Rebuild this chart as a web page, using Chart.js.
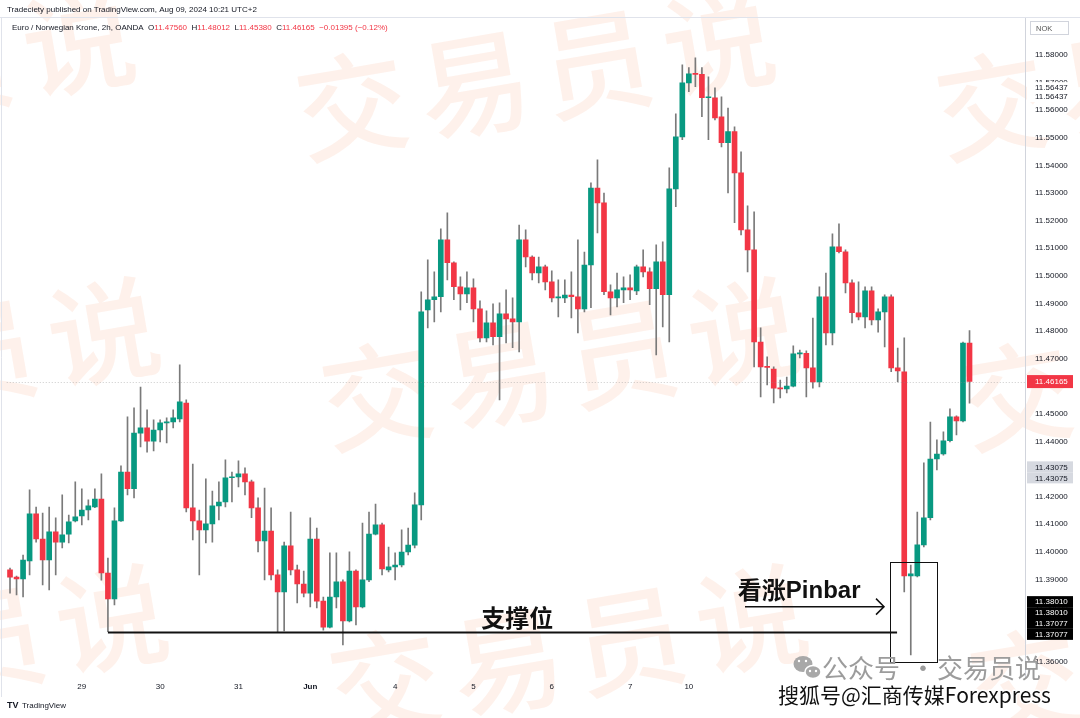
<!DOCTYPE html>
<html>
<head>
<meta charset="utf-8">
<title>EUR/NOK 2h</title>
<script src="https://cdn.jsdelivr.net/npm/chart.js@4.4.1/dist/chart.umd.min.js"></script>
<style>
  html, body { margin: 0; padding: 0; background: #fff; }
  canvas { display: block; }
</style>
</head>
<body>
<canvas id="myChart" width="1080" height="718"></canvas>
<script>
// 2h candles, EUR/NOK (OANDA)
const opens = [
  11.3934, 11.3908, 11.3901, 11.3967, 11.4137, 11.4046, 11.3970, 11.4072, 11.4035, 11.4064,
  11.4112, 11.4130, 11.4151, 11.4162, 11.4191, 11.3923, 11.3829, 11.4112, 11.4289, 11.4228,
  11.4430, 11.4449, 11.4401, 11.4441, 11.4467, 11.4470, 11.4481, 11.4539, 11.4159, 11.4112,
  11.4079, 11.4101, 11.4166, 11.4180, 11.4268, 11.4271, 11.4282, 11.4253, 11.4159, 11.4039,
  11.4075, 11.3916, 11.3854, 11.4021, 11.3934, 11.3883, 11.3850, 11.4046, 11.3821, 11.3727,
  11.3836, 11.3891, 11.3749, 11.3930, 11.3800, 11.3898, 11.4064, 11.4097, 11.3934, 11.3945,
  11.3952, 11.3999, 11.4024, 11.4170, 11.4876, 11.4913, 11.4924, 11.5130, 11.5047, 11.4960,
  11.4934, 11.4956, 11.4880, 11.4775, 11.4829, 11.4779, 11.4862, 11.4844, 11.4833, 11.5130,
  11.5068, 11.5010, 11.5032, 11.4978, 11.4920, 11.4920, 11.4930, 11.4924, 11.4880, 11.5039,
  11.5318, 11.5264, 11.4942, 11.4920, 11.4949, 11.4956, 11.4945, 11.5032, 11.5014, 11.4953,
  11.5050, 11.4931, 11.5315, 11.5503, 11.5699, 11.5732, 11.5730, 11.5645, 11.5645, 11.5576,
  11.5482, 11.5522, 11.5373, 11.5166, 11.5094, 11.4760, 11.4670, 11.4662, 11.4593, 11.4590,
  11.4600, 11.4717, 11.4719, 11.4666, 11.4615, 11.4924, 11.4793, 11.5105, 11.5087, 11.4974,
  11.4866, 11.4851, 11.4945, 11.4840, 11.4869, 11.4924, 11.4666, 11.4652, 11.3912, 11.3912,
  11.4025, 11.4123, 11.4336, 11.4354, 11.4402, 11.4489, 11.4474, 11.4756
];
const highs = [
  11.3941, 11.3912, 11.3988, 11.4224, 11.4162, 11.4140, 11.4162, 11.4123, 11.4206, 11.4133,
  11.4253, 11.4228, 11.4188, 11.4228, 11.4282, 11.3977, 11.4159, 11.4311, 11.4489, 11.4521,
  11.4597, 11.4514, 11.4478, 11.4478, 11.4485, 11.4514, 11.4677, 11.4550, 11.4318, 11.4151,
  11.4264, 11.4220, 11.4253, 11.4333, 11.4289, 11.4329, 11.4304, 11.4260, 11.4195, 11.4231,
  11.4159, 11.3934, 11.4035, 11.4144, 11.3952, 11.3930, 11.4123, 11.4086, 11.3836, 11.3996,
  11.3996, 11.3898, 11.4000, 11.3934, 11.4104, 11.4144, 11.4173, 11.4104, 11.4017, 11.3996,
  11.4079, 11.4086, 11.4213, 11.4942, 11.5058, 11.5014, 11.5170, 11.5228, 11.5050, 11.4996,
  11.5014, 11.4989, 11.4909, 11.4873, 11.4898, 11.4902, 11.4949, 11.4920, 11.5184, 11.5166,
  11.5072, 11.5068, 11.5039, 11.5018, 11.4985, 11.4985, 11.5014, 11.5130, 11.5086, 11.5337,
  11.5420, 11.5300, 11.4967, 11.5010, 11.4996, 11.5003, 11.5039, 11.5094, 11.5029, 11.5112,
  11.5123, 11.5391, 11.5587, 11.5764, 11.5754, 11.5790, 11.5754, 11.5721, 11.5681, 11.5648,
  11.5608, 11.5540, 11.5449, 11.5253, 11.5232, 11.4811, 11.4706, 11.4670, 11.4622, 11.4633,
  11.4746, 11.4731, 11.4728, 11.4847, 11.4960, 11.5010, 11.5152, 11.5188, 11.5094, 11.4985,
  11.4978, 11.4960, 11.4960, 11.4880, 11.4931, 11.4931, 11.4738, 11.4775, 11.3952, 11.4144,
  11.4322, 11.4470, 11.4405, 11.4434, 11.4518, 11.4492, 11.4760, 11.4801
];
const lows = [
  11.3850, 11.3843, 11.3836, 11.3916, 11.4035, 11.3880, 11.3862, 11.3916, 11.4014, 11.4032,
  11.4108, 11.4097, 11.4115, 11.4160, 11.3897, 11.3710, 11.3807, 11.4110, 11.4206, 11.4195,
  11.4380, 11.4361, 11.4365, 11.4398, 11.4394, 11.4449, 11.4470, 11.4144, 11.4043, 11.3916,
  11.4032, 11.4035, 11.4115, 11.4162, 11.4180, 11.4235, 11.4206, 11.4123, 11.3999, 11.3898,
  11.3898, 11.3709, 11.3713, 11.3916, 11.3814, 11.3836, 11.3800, 11.3796, 11.3716, 11.3724,
  11.3796, 11.3662, 11.3746, 11.3735, 11.3796, 11.3891, 11.4061, 11.3916, 11.3927, 11.3898,
  11.3945, 11.3988, 11.4014, 11.4115, 11.4811, 11.4833, 11.4869, 11.4985, 11.4913, 11.4876,
  11.4902, 11.4833, 11.4760, 11.4760, 11.4749, 11.4550, 11.4757, 11.4739, 11.4724, 11.5032,
  11.4985, 11.4974, 11.4949, 11.4905, 11.4851, 11.4902, 11.4847, 11.4793, 11.4869, 11.4884,
  11.5155, 11.4931, 11.4858, 11.4887, 11.4902, 11.4913, 11.4931, 11.4996, 11.4895, 11.4713,
  11.4815, 11.4760, 11.5250, 11.5493, 11.5667, 11.5685, 11.5576, 11.5493, 11.5565, 11.5467,
  11.5300, 11.5192, 11.5148, 11.5014, 11.4670, 11.4561, 11.4604, 11.4539, 11.4557, 11.4575,
  11.4597, 11.4702, 11.4561, 11.4593, 11.4597, 11.4749, 11.4749, 11.5083, 11.4938, 11.4829,
  11.4840, 11.4811, 11.4822, 11.4796, 11.4742, 11.4652, 11.4615, 11.3854, 11.3626, 11.3909,
  11.4017, 11.4115, 11.4296, 11.4350, 11.4398, 11.4423, 11.4470, 11.4538
];
const closes = [
  11.3908, 11.3901, 11.3970, 11.4137, 11.4046, 11.3970, 11.4072, 11.4035, 11.4061, 11.4108,
  11.4126, 11.4151, 11.4166, 11.4191, 11.3923, 11.3829, 11.4112, 11.4289, 11.4228, 11.4430,
  11.4449, 11.4401, 11.4441, 11.4467, 11.4471, 11.4485, 11.4543, 11.4159, 11.4112, 11.4079,
  11.4101, 11.4166, 11.4180, 11.4268, 11.4271, 11.4282, 11.4253, 11.4159, 11.4039, 11.4075,
  11.3916, 11.3854, 11.4021, 11.3934, 11.3883, 11.3850, 11.4046, 11.3821, 11.3727, 11.3836,
  11.3891, 11.3749, 11.3930, 11.3800, 11.3898, 11.4064, 11.4097, 11.3938, 11.3945, 11.3952,
  11.3999, 11.4024, 11.4170, 11.4869, 11.4913, 11.4924, 11.5130, 11.5047, 11.4960, 11.4934,
  11.4956, 11.4880, 11.4775, 11.4829, 11.4779, 11.4862, 11.4844, 11.4833, 11.5130, 11.5068,
  11.5010, 11.5032, 11.4978, 11.4920, 11.4922, 11.4930, 11.4924, 11.4880, 11.5039, 11.5318,
  11.5264, 11.4942, 11.4920, 11.4949, 11.4956, 11.4949, 11.5032, 11.5014, 11.4953, 11.5050,
  11.4931, 11.5315, 11.5503, 11.5699, 11.5732, 11.5730, 11.5645, 11.5647, 11.5572, 11.5482,
  11.5522, 11.5373, 11.5166, 11.5094, 11.4760, 11.4670, 11.4668, 11.4593, 11.4590, 11.4600,
  11.4717, 11.4719, 11.4666, 11.4615, 11.4924, 11.4793, 11.5105, 11.5087, 11.4974, 11.4866,
  11.4851, 11.4945, 11.4840, 11.4869, 11.4924, 11.4666, 11.4655, 11.3912, 11.3920, 11.4025,
  11.4123, 11.4336, 11.4354, 11.4402, 11.4489, 11.4474, 11.4756, 11.4617
];

// day labels on the time axis (bar index -> text)
const dayTickIndex = [11, 23, 35, 46, 59, 71, 83, 95, 104];
const dayTickText = ['29', '30', '31', 'Jun', '4', '5', '6', '7', '10'];

// empty bars kept on the right, like TradingView's right margin
const rightMarginBars = 8;

// price scale range and extra axis markers
const priceMin = 11.3546;
const priceMax = 11.5934;
const lastPrice = 11.46165;
const highMark = 11.56437;
const crossMark = 11.43075;
const arrowPrice = 11.38010;
const supportPrice = 11.37077;

// drawings: [bar index from, bar index to]
const supportSpan = [15, 135.9];
const arrowSpan = [112.6, 133.9];
const boxSpan = [134.8, 142.0];
const boxPrices = [11.3963, 11.3600];

const UP = '#089981';
const DOWN = '#F23645';
const WICK = '#7a7a7a';
const UI_FONT = '"Liberation Sans", Arial, sans-serif';
const CJK_FONT = '"Noto Sans CJK SC", sans-serif';

const labels = [];
for (let i = 0; i < opens.length + rightMarginBars; i++) labels.push(String(i));
const bodyColors = opens.map((o, i) => (closes[i] >= o ? UP : DOWN));

function axisTag(ctx, y, text, bg, fg) {
  ctx.fillStyle = bg;
  ctx.fillRect(1027, y - 5.5, 46, 11);
  ctx.fillStyle = fg;
  ctx.font = '8px ' + UI_FONT;
  ctx.textAlign = 'left';
  ctx.textBaseline = 'middle';
  ctx.fillText(text, 1035, y + 0.5);
}

const tvOverlay = {
  id: 'tvOverlay',
  beforeDraw(chart) {
    const ctx = chart.ctx;
    ctx.save();
    ctx.fillStyle = '#fff';
    ctx.fillRect(0, 0, chart.width, chart.height);
    // faint diagonal watermark
    ctx.fillStyle = 'rgba(250,140,90,0.12)';
    ctx.font = '500 112px ' + CJK_FONT;
    ctx.textAlign = 'center';
    ctx.textBaseline = 'middle';
    const word = ['交', '易', '员', '说'];
    [[352, 105], [377, 395], [385, 682]].forEach(([xr, y0]) => {
      [xr - 640, xr, xr + 640].forEach(x0 => {
        ctx.save();
        ctx.translate(x0, y0);
        ctx.rotate(-0.17);
        word.forEach((ch, k) => ctx.fillText(ch, k * 124, 0));
        ctx.restore();
      });
    });
    ctx.restore();
  },
  afterDatasetsDraw(chart) {
    const ctx = chart.ctx;
    const x = chart.scales.x;
    const y = chart.scales.y;
    const area = chart.chartArea;
    ctx.save();

    // last price dotted line
    ctx.strokeStyle = 'rgba(140,140,140,0.45)';
    ctx.setLineDash([1, 2]);
    ctx.lineWidth = 1;
    const ly = Math.round(y.getPixelForValue(lastPrice)) + 0.5;
    ctx.beginPath();
    ctx.moveTo(area.left, ly);
    ctx.lineTo(area.right, ly);
    ctx.stroke();
    ctx.setLineDash([]);

    // support line
    ctx.strokeStyle = '#111';
    ctx.lineWidth = 2;
    const sy = y.getPixelForValue(supportPrice);
    ctx.beginPath();
    ctx.moveTo(x.getPixelForValue(supportSpan[0]), sy);
    ctx.lineTo(x.getPixelForValue(supportSpan[1]), sy);
    ctx.stroke();

    // arrow
    const ay = y.getPixelForValue(arrowPrice);
    const ax1 = x.getPixelForValue(arrowSpan[0]);
    const ax2 = x.getPixelForValue(arrowSpan[1]);
    ctx.lineWidth = 1.5;
    ctx.beginPath();
    ctx.moveTo(ax1, ay);
    ctx.lineTo(ax2, ay);
    ctx.moveTo(ax2 - 8, ay - 8);
    ctx.lineTo(ax2, ay);
    ctx.lineTo(ax2 - 8, ay + 8);
    ctx.stroke();

    // box around the pin bar
    ctx.lineWidth = 1;
    const bx1 = x.getPixelForValue(boxSpan[0]);
    const bx2 = x.getPixelForValue(boxSpan[1]);
    const by1 = y.getPixelForValue(boxPrices[0]);
    const by2 = y.getPixelForValue(boxPrices[1]);
    ctx.strokeRect(Math.round(bx1) + 0.5, Math.round(by1) + 0.5, Math.round(bx2 - bx1), Math.round(by2 - by1));

    // labels
    ctx.fillStyle = '#111';
    ctx.font = 'bold 24px ' + CJK_FONT;
    ctx.textAlign = 'center';
    ctx.textBaseline = 'alphabetic';
    ctx.fillText('支撑位', x.getPixelForValue(77.7), sy - 5);
    ctx.textAlign = 'left';
    ctx.textBaseline = 'middle';
    const px = x.getPixelForValue(111.5);
    const py = y.getPixelForValue(11.3861);
    ctx.font = 'bold 24px ' + CJK_FONT;
    ctx.fillText('看涨', px, py);
    const w = ctx.measureText('看涨').width;
    ctx.font = 'bold 24px ' + UI_FONT;
    ctx.fillText('Pinbar', px + w, py + 1);
    ctx.restore();
  },
  afterDraw(chart) {
    const ctx = chart.ctx;
    const y = chart.scales.y;
    ctx.save();

    // frame
    ctx.strokeStyle = '#e0e3eb';
    ctx.lineWidth = 1;
    ctx.beginPath();
    ctx.moveTo(0, 17.5);
    ctx.lineTo(1080, 17.5);
    ctx.moveTo(1.5, 17.5);
    ctx.lineTo(1.5, 697);
    ctx.stroke();

    // header
    ctx.textAlign = 'left';
    ctx.textBaseline = 'middle';
    ctx.font = '8px ' + UI_FONT;
    ctx.fillStyle = '#131722';
    ctx.fillText('Tradeciety published on TradingView.com, Aug 09, 2024 10:21 UTC+2', 7, 10);
    const parts = [
      ['Euro / Norwegian Krone, 2h, OANDA  ', '#131722'],
      ['O', '#131722'], ['11.47560  ', DOWN],
      ['H', '#131722'], ['11.48012  ', DOWN],
      ['L', '#131722'], ['11.45380  ', DOWN],
      ['C', '#131722'], ['11.46165  ', DOWN],
      ['\u22120.01395 (\u22120.12%)', DOWN]
    ];
    let hx = 12;
    parts.forEach(([t, c]) => {
      ctx.fillStyle = c;
      ctx.fillText(t, hx, 28);
      hx += ctx.measureText(t).width;
    });

    // currency box
    ctx.fillStyle = '#fff';
    ctx.fillRect(1030, 21, 38, 13);
    ctx.strokeStyle = '#d1d4dc';
    ctx.strokeRect(1030.5, 21.5, 38, 13);
    ctx.fillStyle = '#555';
    ctx.font = '7.5px ' + UI_FONT;
    ctx.fillText('NOK', 1036, 28.5);

    // price axis markers
    const hy = y.getPixelForValue(highMark);
    axisTag(ctx, hy - 10.5, highMark.toFixed(5), '#fff', '#131722');
    axisTag(ctx, hy - 1.5, highMark.toFixed(5), '#fff', '#131722');
    const cy = y.getPixelForValue(crossMark);
    axisTag(ctx, cy, crossMark.toFixed(5), '#d6d9e0', '#131722');
    axisTag(ctx, cy + 11, crossMark.toFixed(5), '#d6d9e0', '#131722');
    const ay = y.getPixelForValue(arrowPrice);
    axisTag(ctx, ay - 5, arrowPrice.toFixed(5), '#000', '#fff');
    axisTag(ctx, ay + 6, arrowPrice.toFixed(5), '#000', '#fff');
    const sy = y.getPixelForValue(supportPrice);
    axisTag(ctx, sy - 9, supportPrice.toFixed(5), '#000', '#fff');
    axisTag(ctx, sy + 2, supportPrice.toFixed(5), '#000', '#fff');
    const ly = y.getPixelForValue(lastPrice);
    ctx.fillStyle = DOWN;
    ctx.fillRect(1027, ly - 6.5, 46, 13);
    ctx.fillStyle = '#fff';
    ctx.font = '8px ' + UI_FONT;
    ctx.fillText(lastPrice.toFixed(5), 1035, ly + 0.5);

    // TradingView logo
    ctx.fillStyle = '#131722';
    ctx.font = 'bold 9px ' + UI_FONT;
    ctx.fillText('TV', 7, 706);
    ctx.font = '8px ' + UI_FONT;
    ctx.fillText('TradingView', 22, 706);

    // WeChat / Sohu watermark, bottom right
    ctx.fillStyle = '#a8a8a8';
    ctx.beginPath();
    ctx.ellipse(803, 664, 9.5, 8, 0, 0, Math.PI * 2);
    ctx.fill();
    ctx.strokeStyle = '#fff';
    ctx.lineWidth = 1.5;
    ctx.beginPath();
    ctx.ellipse(813, 672, 8, 6.5, 0, 0, Math.PI * 2);
    ctx.fill();
    ctx.stroke();
    ctx.fillStyle = '#fff';
    [[799, 661], [806, 661], [810, 671], [816, 671]].forEach(([ex, ey]) => {
      ctx.beginPath();
      ctx.arc(ex, ey, 1.2, 0, Math.PI * 2);
      ctx.fill();
    });
    ctx.fillStyle = '#9c9c9c';
    ctx.font = '26px ' + CJK_FONT;
    ctx.textBaseline = 'alphabetic';
    ctx.fillText('公众号', 822, 678);
    ctx.fillText('·', 910, 678);
    ctx.fillText('交易员说', 937, 678);

    ctx.font = '21px ' + CJK_FONT;
    ctx.lineWidth = 3;
    ctx.strokeStyle = '#fff';
    ctx.lineJoin = 'round';
    ctx.strokeText('搜狐号@汇商传媒Forexpress', 778, 703);
    ctx.fillStyle = '#111';
    ctx.fillText('搜狐号@汇商传媒Forexpress', 778, 703);
    ctx.restore();
  }
};

Chart.defaults.font.family = UI_FONT;

const ctx = document.getElementById('myChart').getContext('2d');
const chart = new Chart(ctx, {
  type: 'bar',
  data: {
    labels: labels,
    datasets: [
      {
        label: 'body',
        data: opens.map((o, i) => [o, closes[i]]),
        backgroundColor: bodyColors,
        barThickness: 5,
        minBarLength: 1,
        grouped: false,
        order: 0
      },
      {
        label: 'wick',
        data: lows.map((l, i) => [l, highs[i]]),
        backgroundColor: WICK,
        barThickness: 1,
        grouped: false,
        order: 1
      }
    ]
  },
  options: {
    responsive: false,
    animation: false,
    devicePixelRatio: 1,
    events: [],
    layout: { padding: { left: 6.75, right: 0, top: 18, bottom: 21 } },
    plugins: { legend: { display: false }, tooltip: { enabled: false } },
    scales: {
      x: {
        type: 'category',
        offset: true,
        grid: { display: false, drawTicks: false },
        border: { display: false },
        afterFit: s => { s.height = 20; },
        ticks: {
          autoSkip: false,
          maxRotation: 0,
          minRotation: 0,
          padding: 5,
          color: '#131722',
          font: c => ({ size: 8, weight: c.index === 46 ? 'bold' : 'normal' }),
          callback: (v, i) => {
            const k = dayTickIndex.indexOf(i);
            return k >= 0 ? dayTickText[k] : '';
          }
        }
      },
      y: {
        type: 'linear',
        position: 'right',
        min: priceMin,
        max: priceMax,
        grid: { display: false, drawTicks: false },
        border: { display: true, color: '#d1d4dc' },
        afterFit: s => { s.width = 55; },
        ticks: {
          stepSize: 0.01,
          includeBounds: false,
          padding: 10,
          color: '#131722',
          font: { size: 8 },
          callback: v => (v > 11.585 ? '' : v.toFixed(5))
        }
      }
    }
  },
  plugins: [tvOverlay]
});
</script>
</body>
</html>
